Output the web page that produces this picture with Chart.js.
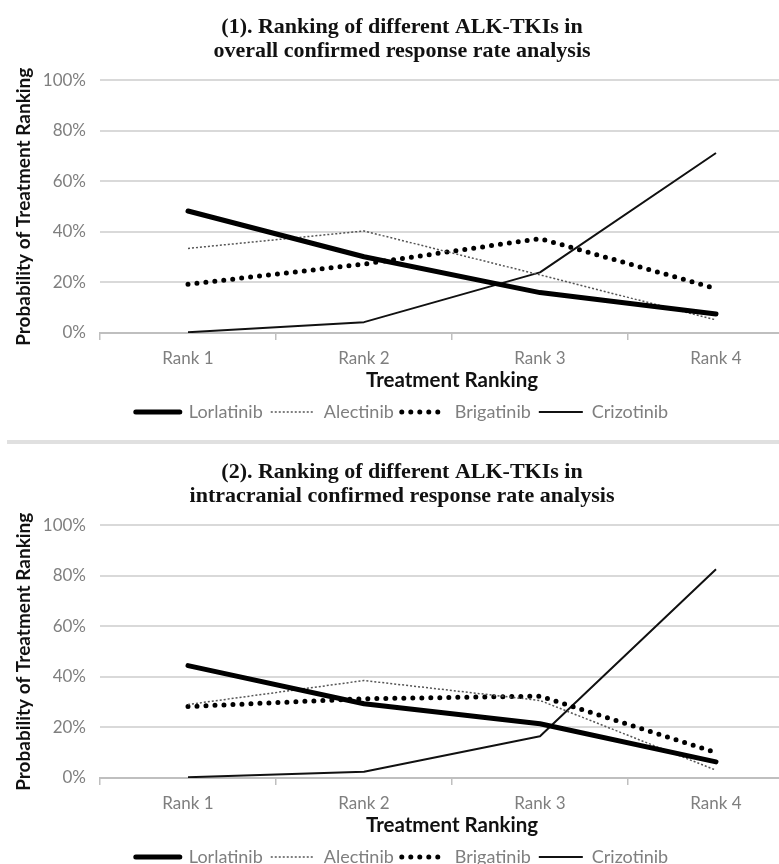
<!DOCTYPE html>
<html><head><meta charset="utf-8">
<script src="https://cdn.jsdelivr.net/npm/chart.js@4/dist/chart.umd.min.js"></script>
<style>
html,body{margin:0;padding:0;background:#fff;overflow:hidden;width:779px;height:864px;}
.wrap{position:absolute;left:0;width:820px;height:445px;}
#sep{position:absolute;left:7px;top:440px;width:800px;height:4px;background:#e0e0e0;}
</style></head><body>
<div class="wrap" style="top:0"><canvas id="c1" width="820" height="445"></canvas></div>
<div class="wrap" style="top:445px"><canvas id="c2" width="820" height="445"></canvas></div>
<div id="sep"></div>
<script>
// ---- data ----
const rankLabels = ['Rank 1', 'Rank 2', 'Rank 3', 'Rank 4'];
const seriesNames = ['Lorlatinib', 'Alectinib', 'Brigatinib', 'Crizotinib'];
const yTicks = [0, 20, 40, 60, 80, 100];

const title1 = ['(1). Ranking of different ALK-TKIs in', 'overall confirmed response rate analysis'];
const lorlatinib1 = [48.3, 30.2, 16.0, 7.5];
const alectinib1  = [33.5, 40.4, 23.0, 5.2];
const brigatinib1 = [19.3, 27.3, 37.4, 17.6];
const crizotinib1 = [0.3, 4.3, 24.0, 71.3];

const title2 = ['(2). Ranking of different ALK-TKIs in', 'intracranial confirmed response rate analysis'];
const lorlatinib2 = [44.5, 29.4, 21.5, 6.4];
const alectinib2  = [29.1, 38.6, 30.7, 3.1];
const brigatinib2 = [28.3, 31.4, 32.4, 10.1];
const crizotinib2 = [0.3, 2.5, 16.5, 82.7];

const xTitle = 'Treatment Ranking';
const yTitle = 'Probability of Treatment Ranking';

// ---- styles ----
const SANS = "Lato, 'Open Sans', sans-serif";
const styles = [
  {borderColor: '#000000', borderWidth: 5, borderDash: [], borderCapStyle: 'round'},
  {borderColor: '#555555', borderWidth: 1.5, borderDash: [2, 2], borderCapStyle: 'butt'},
  {borderColor: '#000000', borderWidth: 5, borderDash: [0, 9], borderCapStyle: 'round'},
  {borderColor: '#111111', borderWidth: 2, borderDash: [], borderCapStyle: 'butt'}
];

function legendLabels(chart) {
  return chart.data.datasets.map((ds, i) => ({
    text: ds.label,
    fillStyle: ds.borderColor,
    strokeStyle: ds.borderColor,
    lineWidth: ds.borderWidth,
    lineDash: ds.borderDash,
    lineCap: ds.borderCapStyle,
    pointStyle: 'line',
    fontColor: '#7f7f7f',
    hidden: false,
    datasetIndex: i
  }));
}

function makeChart(id, titleLines, seriesData) {
  const datasets = seriesData.map((d, i) => Object.assign({
    label: seriesNames[i],
    data: d,
    backgroundColor: styles[i].borderColor,
    pointRadius: 0,
    pointHoverRadius: 0,
    pointStyle: 'line',
    tension: 0,
    fill: false,
    borderJoinStyle: 'round'
  }, styles[i]));
  return new Chart(document.getElementById(id), {
    type: 'line',
    data: {labels: rankLabels, datasets},
    options: {
      responsive: false,
      animation: false,
      devicePixelRatio: 1,
      layout: {padding: {left: 0, right: 16, top: 0, bottom: 14}},
      plugins: {
        tooltip: {enabled: false},
        title: {
          display: true,
          text: titleLines,
          color: '#111111',
          font: {family: "'Liberation Serif', serif", size: 22, weight: 'bold', lineHeight: 1.0909},
          padding: {top: 15, bottom: 17.5}
        },
        legend: {
          position: 'bottom',
          labels: {
            usePointStyle: true,
            pointStyleWidth: 44,
            padding: 8,
            color: '#7f7f7f',
            font: {family: SANS, size: 18},
            generateLabels: legendLabels
          }
        }
      },
      scales: {
        x: {
          offset: true,
          grid: {display: true, drawOnChartArea: false, drawTicks: true, tickLength: 7, offset: true, color: '#bfbfbf', lineWidth: 1.5},
          border: {display: true, color: '#bfbfbf', width: 2},
          ticks: {color: '#7f7f7f', font: {family: SANS, size: 17}, padding: 8, maxRotation: 0},
          title: {display: true, text: xTitle, color: '#111111', font: {family: SANS, size: 20.5, weight: 'bold', lineHeight: 1.2}, padding: {top: -8, bottom: 2}}
        },
        y: {
          min: 0, max: 100,
          afterFit: (s) => { s.width = 100; },
          afterBuildTicks: (s) => { s.ticks = yTicks.map(v => ({value: v})); },
          grid: {color: '#d9d9d9', lineWidth: 2, drawTicks: false},
          border: {display: false},
          ticks: {color: '#7f7f7f', font: {family: SANS, size: 17}, padding: 14, callback: (v) => v + '%'},
          title: {display: true, text: yTitle, color: '#111111', font: {family: SANS, size: 19, weight: 'bold', lineHeight: 1.2}, padding: {top: 12.6, bottom: 0}}
        }
      }
    }
  });
}

makeChart('c1', title1, [lorlatinib1, alectinib1, brigatinib1, crizotinib1]);
makeChart('c2', title2, [lorlatinib2, alectinib2, brigatinib2, crizotinib2]);
</script>
</body></html>
